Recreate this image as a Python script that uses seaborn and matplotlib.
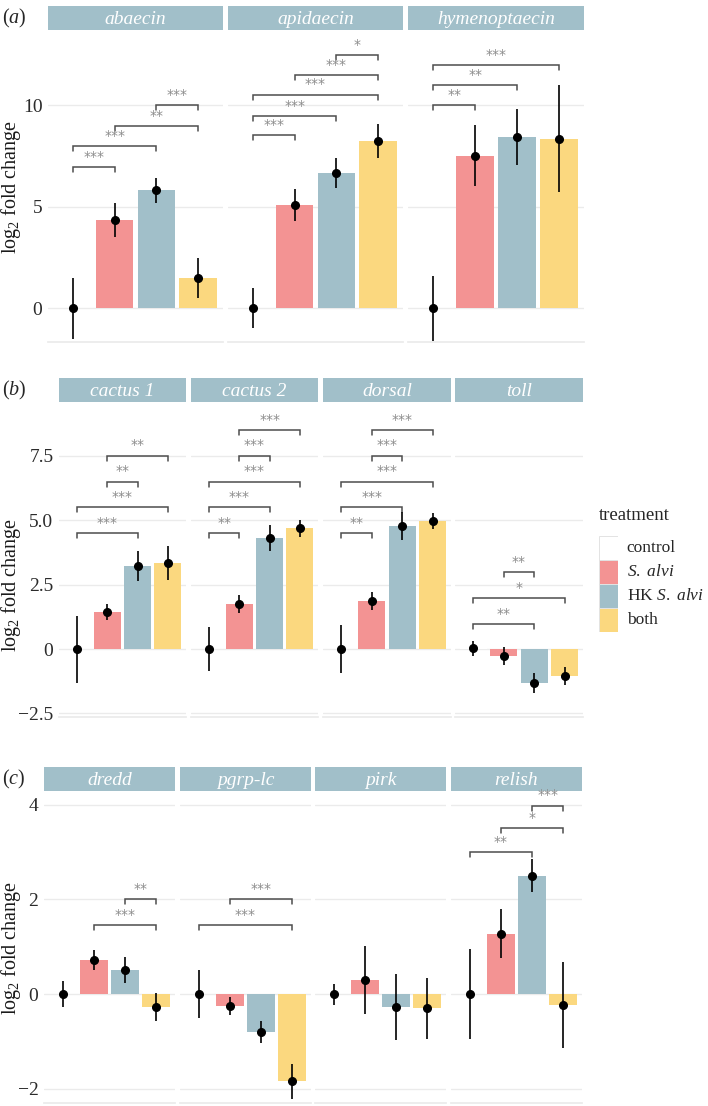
import numpy as np
import pandas as pd
import matplotlib
matplotlib.use("Agg")
import matplotlib.pyplot as plt
import seaborn as sns

sns.set_theme(style="white")
plt.rcParams["font.family"] = ["Liberation Serif", "DejaVu Serif"]
plt.rcParams["mathtext.fontset"] = "custom"
plt.rcParams["mathtext.rm"] = "Liberation Serif"
plt.rcParams["mathtext.it"] = "Liberation Serif:italic"

# treatments and colours
treatments = ["control", "S. alvi", "HK S. alvi", "both"]
legend_labels = ["control", r"$\mathit{S.}$ $\mathit{alvi}$", r"HK $\mathit{S.}$ $\mathit{alvi}$", "both"]
palette = ["#FFFFFF", "#F39393", "#A1BFC9", "#FBD87F"]
strip_color = "#A1BFC9"

# (a) antimicrobial peptides
genes_a = ["abaecin", "apidaecin", "hymenoptaecin"]
mean_a = [[0, 4.33, 5.80, 1.48],
          [0, 5.07, 6.65, 8.23],
          [0, 7.50, 8.43, 8.35]]
err_a = [[1.50, 0.85, 0.63, 1.00],
         [1.00, 0.80, 0.75, 0.85],
         [1.60, 1.50, 1.40, 2.65]]
sig_a = [[(0, 1, 6.95, "***"), (0, 2, 7.98, "***"), (1, 3, 8.97, "**"), (2, 3, 10.0, "***")],
         [(0, 1, 8.52, "***"), (0, 2, 9.46, "***"), (0, 3, 10.5, "***"), (1, 3, 11.48, "***"), (2, 3, 12.46, "*")],
         [(0, 1, 10.0, "**"), (0, 2, 10.98, "**"), (0, 3, 11.97, "***")]]

# (b) Toll pathway
genes_b = ["cactus 1", "cactus 2", "dorsal", "toll"]
mean_b = [[0, 1.44, 3.23, 3.34],
          [0, 1.75, 4.31, 4.70],
          [0, 1.87, 4.78, 4.97],
          [0.03, -0.27, -1.32, -1.05]]
err_b = [[1.30, 0.30, 0.57, 0.66],
         [0.85, 0.35, 0.50, 0.33],
         [0.92, 0.35, 0.56, 0.30],
         [0.30, 0.35, 0.38, 0.35]]
sig_b = [[(0, 2, 4.5, "***"), (0, 3, 5.5, "***"), (1, 2, 6.5, "**"), (1, 3, 7.5, "**")],
         [(0, 1, 4.5, "**"), (0, 2, 5.5, "***"), (0, 3, 6.5, "***"), (1, 2, 7.5, "***"), (1, 3, 8.5, "***")],
         [(0, 1, 4.5, "**"), (0, 2, 5.5, "***"), (0, 3, 6.5, "***"), (1, 2, 7.5, "***"), (1, 3, 8.5, "***")],
         [(0, 2, 0.97, "**"), (0, 3, 1.98, "*"), (1, 2, 2.99, "**")]]

# (c) Imd pathway
genes_c = ["dredd", "pgrp-lc", "pirk", "relish"]
mean_c = [[0, 0.72, 0.51, -0.27],
          [0, -0.25, -0.80, -1.84],
          [0, 0.30, -0.27, -0.30],
          [0, 1.28, 2.50, -0.23]]
err_c = [[0.27, 0.22, 0.28, 0.30],
         [0.50, 0.20, 0.23, 0.37],
         [0.22, 0.72, 0.70, 0.65],
         [0.95, 0.51, 0.35, 0.90]]
sig_c = [[(1, 3, 1.46, "***"), (2, 3, 2.0, "**")],
         [(0, 3, 1.46, "***"), (1, 3, 2.0, "***")],
         [],
         [(0, 2, 3.0, "**"), (1, 3, 3.5, "*"), (2, 3, 3.98, "***")]]

W, H = 708, 1106
fig = plt.figure(figsize=(W / 100, H / 100), dpi=100)


def box(x0, y0, x1, y1):
    return [x0 / W, 1 - y1 / H, (x1 - x0) / W, (y1 - y0) / H]


def draw_panel(tag, genes, means, errs, sigs, xs, strip_y, panel_y, ylim, ticks, ticklabels, label_y):
    for k, gene in enumerate(genes):
        x0, x1 = xs[k]
        sax = fig.add_axes(box(x0, strip_y[0], x1, strip_y[1]))
        sax.set_facecolor(strip_color)
        sax.set_xticks([]); sax.set_yticks([])
        for s in sax.spines.values():
            s.set_visible(False)
        sax.text(0.5, 0.45, gene, ha="center", va="center", color="white",
                 style="italic", fontsize=14, transform=sax.transAxes)

        ax = fig.add_axes(box(x0, panel_y[0], x1, panel_y[1]))
        df = pd.DataFrame({"treatment": treatments, "value": means[k]})
        sns.barplot(data=df, x="treatment", y="value", hue="treatment", order=treatments,
                    hue_order=treatments, palette=palette, saturation=1, width=0.9,
                    legend=False, edgecolor="none", ax=ax)
        ax.errorbar(np.arange(len(treatments)), means[k], yerr=errs[k], fmt="o",
                    color="black", ms=5.5, elinewidth=1.2, capsize=0, zorder=5)
        ax.set_xlim(-0.6, 3.6)
        ax.set_ylim(*ylim)
        ax.set_yticks(ticks)
        ax.yaxis.grid(True, color="#EBEBEB", lw=1.0)
        ax.set_axisbelow(True)
        ax.set_xlabel(""); ax.set_ylabel("")
        ax.set_xticks([])
        for name, s in ax.spines.items():
            s.set_visible(name == "bottom")
        ax.spines["bottom"].set_color("#EBEBEB")
        if k == 0:
            ax.set_yticklabels(ticklabels, fontsize=14, color="#2B2B2B")
            ax.tick_params(axis="y", length=0, pad=4)
        else:
            ax.tick_params(axis="y", length=0, labelleft=False)

        # significance brackets
        px_per_unit = (panel_y[1] - panel_y[0]) / (ylim[1] - ylim[0])
        tip = 5 / px_per_unit
        for i, j, y, lab in sigs[k]:
            ax.plot([i, i, j, j], [y - tip, y, y, y - tip], color="#4D4D4D", lw=1.1,
                    solid_joinstyle="miter")
            ax.annotate(lab, xy=((i + j) / 2, y), xytext=(0, 2.5), textcoords="offset points",
                        ha="center", va="bottom", color="#8C8C8C", fontsize=10,
                        family="DejaVu Sans")

    fig.text(2 / W, 1 - (strip_y[0] + strip_y[1]) / 2 / H, tag, ha="left", va="center", fontsize=14.5)
    fig.text(11 / W, 1 - label_y / H, r"log$_2$ fold change", rotation=90,
             ha="center", va="center", fontsize=14.5, color="#1A1A1A")


draw_panel(r"($\mathit{a}$)", genes_a, mean_a, err_a, sig_a,
           [(48, 223), (228, 403), (408, 584)], (6, 30), (33, 342),
           (-1.67, 13.55), [0, 5, 10], ["0", "5", "10"], 187)

draw_panel(r"($\mathit{b}$)", genes_b, mean_b, err_b, sig_b,
           [(59, 186), (191, 318), (323, 451), (455, 583)], (378, 402), (405, 717),
           (-2.64, 9.48), [-2.5, 0, 2.5, 5, 7.5], ["\u22122.5", "0", "2.5", "5.0", "7.5"], 585)

draw_panel(r"($\mathit{c}$)", genes_c, mean_c, err_c, sig_c,
           [(44, 175), (180, 311), (315, 446), (451, 582)], (767, 791), (793, 1103),
           (-2.30, 4.25), [-2, 0, 2, 4], ["\u22122", "0", "2", "4"], 948)

# legend: one key per treatment, stacked
lax = fig.add_axes(box(599, 536, 618, 632))
n = len(treatments)
lax.bar(np.zeros(n), np.ones(n), bottom=np.arange(n)[::-1], width=1.0,
        color=palette, edgecolor="#E3E3E3", linewidth=0.7)
lax.set_xlim(-0.5, 0.5)
lax.set_ylim(0, n)
lax.axis("off")
for k, lab in enumerate(legend_labels):
    lax.text(0.95, n - k - 0.5, lab, ha="left", va="center", fontsize=12.5, clip_on=False)
fig.text(599 / W, 1 - 515 / H, "treatment", ha="left", va="center", fontsize=13.5)

fig.savefig("out.png", dpi=100)
